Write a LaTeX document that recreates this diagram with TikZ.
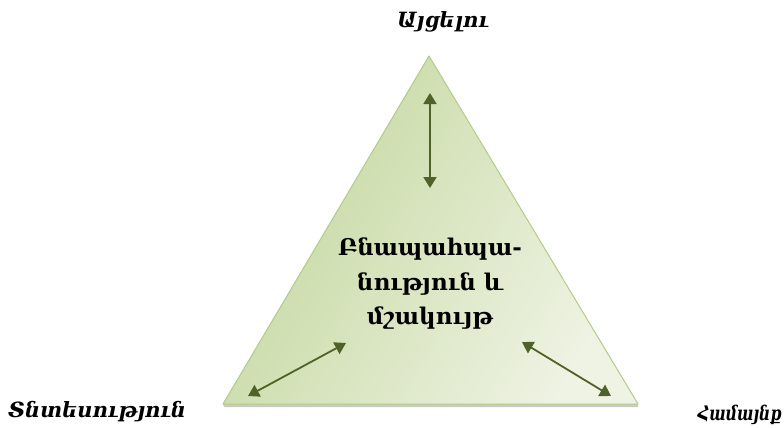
\documentclass[tikz,border=0pt]{standalone}
\usepackage{fontspec}
\setmainfont{DejaVu Serif}
\usetikzlibrary{arrows.meta}
\definecolor{arrowgreen}{HTML}{4F6228}
\definecolor{triedge}{HTML}{B3CB86}
\definecolor{tridark}{HTML}{C4D79E}
\definecolor{trilight}{HTML}{EEF3E3}
\tikzset{
  label text/.style={font=\bfseries\itshape\fontsize{21}{24}\selectfont, inner sep=0pt},
  center text/.style={font=\bfseries\fontsize{23}{34.5}\selectfont, align=center, inner sep=0pt},
  dbl arrow/.style={draw=arrowgreen, line width=1.8pt, {Triangle[length=11pt,width=13pt]}-{Triangle[length=11pt,width=13pt]}},
}
\begin{document}
\begin{tikzpicture}[x=1pt,y=-1pt]
\useasboundingbox (0,0) rectangle (784,428);
\coordinate (apex) at (429,56);
\coordinate (bl) at (223,404);
\coordinate (br) at (638,404);
% shadow
\fill[black!35, opacity=0.6] ([shift={(1,3)}]bl) -- ([shift={(0,3)}]br) -- (br) -- (bl) -- cycle;
% triangle
\shade[shading=axis, left color=tridark, right color=trilight, shading angle=60]
  (apex) -- (br) -- (bl) -- cycle;
\draw[triedge, line width=1pt, line join=round] (apex) -- (br) -- (bl) -- cycle;
% arrow endpoints
\coordinate (t1) at (430,93);
\coordinate (t2) at (430,188);
\coordinate (l1) at (248,396);
\coordinate (l2) at (346,343);
\coordinate (r1) at (522,342);
\coordinate (r2) at (611,396);
\draw[dbl arrow] (t1) -- (t2);
\draw[dbl arrow] (l1) -- (l2);
\draw[dbl arrow] (r1) -- (r2);
% labels
\node[label text, anchor=west] (top) at (397,22) {Այցելու};
\node[label text, anchor=west] (left) at (8,412) {Տնտեսություն};
\node[label text, font=\bfseries\itshape\fontsize{20}{23}\selectfont, anchor=east] (right) at (782,415) {\scalebox{0.78}[1]{Համայնք}};
\node[center text] (mid) at (430,284) {Բնապահպա-\\նություն և\\մշակույթ};
\end{tikzpicture}
\end{document}
